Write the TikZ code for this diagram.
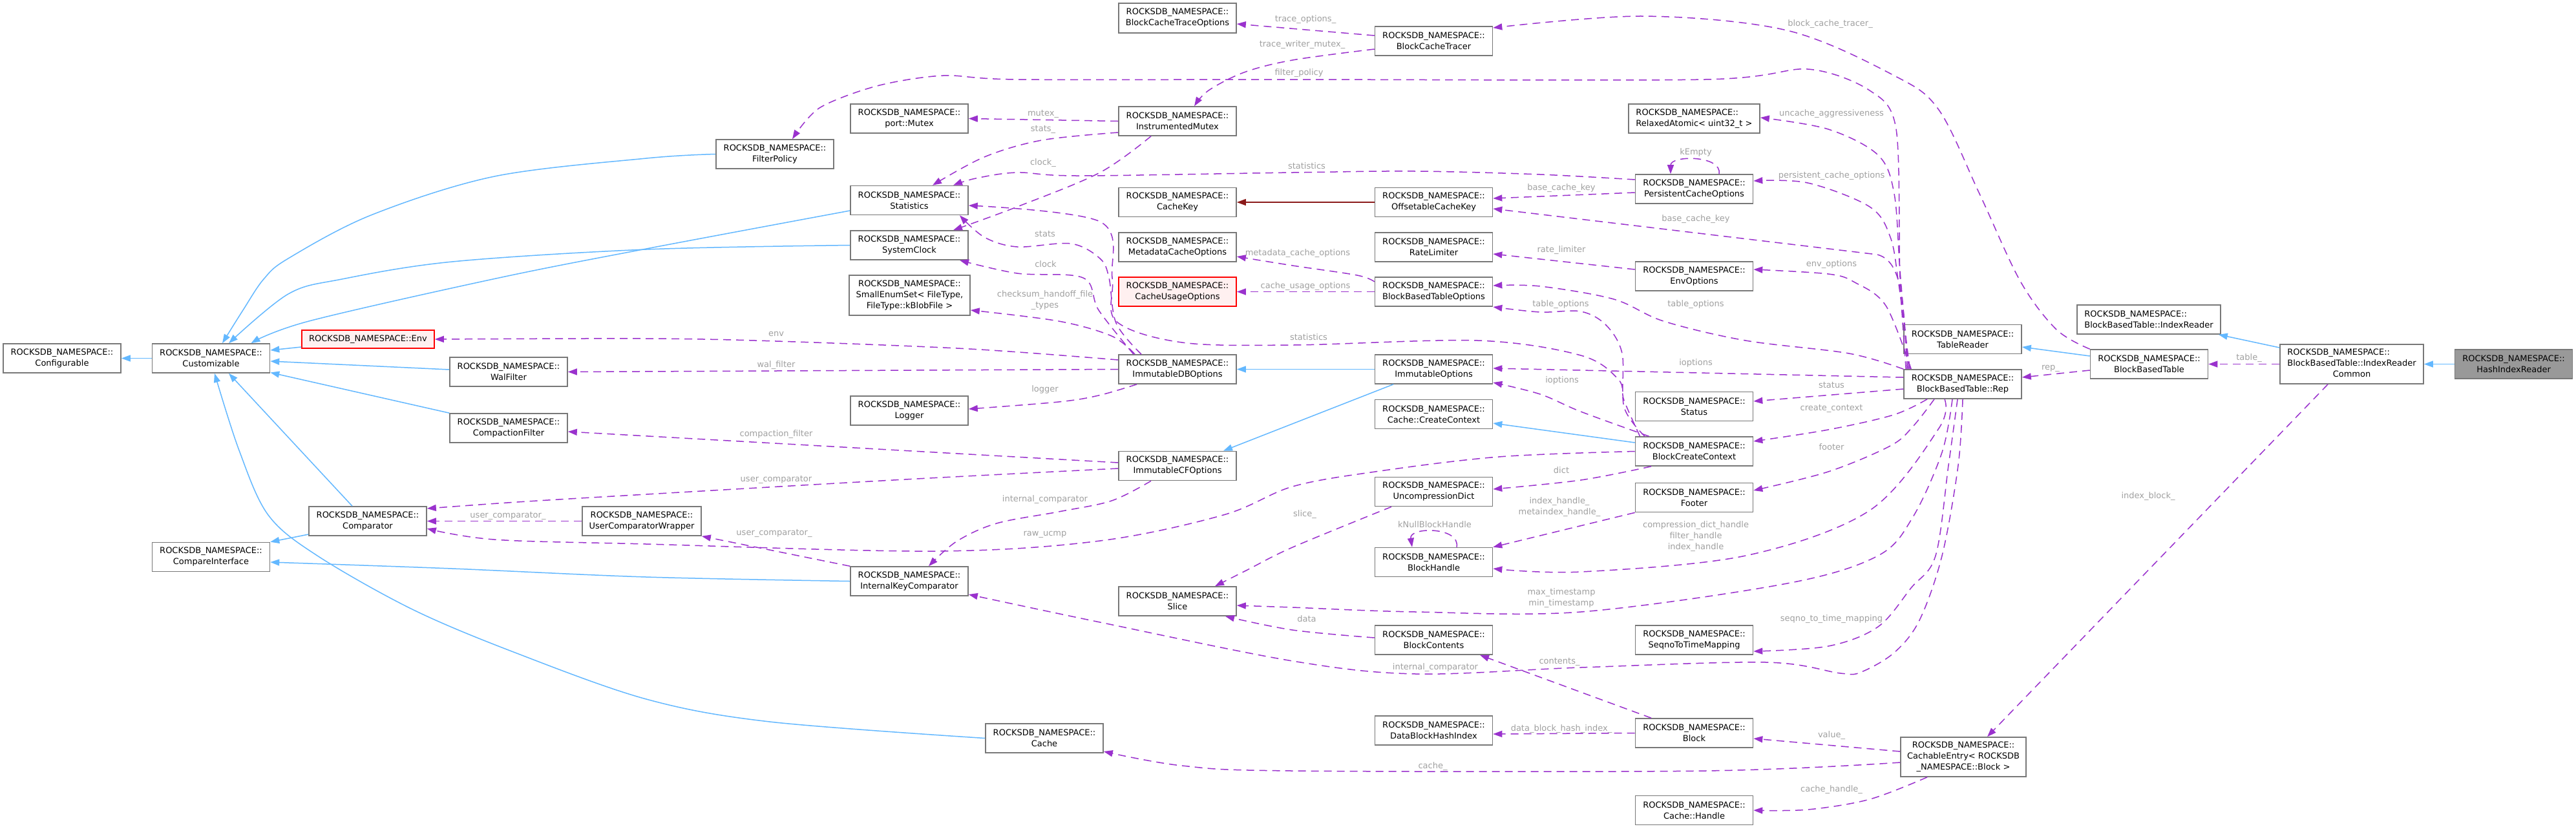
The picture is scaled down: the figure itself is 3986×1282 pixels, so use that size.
\documentclass[tikz,border=0pt]{standalone}
\usepackage{fontspec}
\setmainfont{DejaVu Sans}
\usetikzlibrary{arrows.meta}
\definecolor{bord}{HTML}{787878}
\definecolor{inhc}{HTML}{63B8FF}
\definecolor{usec}{HTML}{9A32CD}
\definecolor{redc}{HTML}{8B1A1A}
\definecolor{lblc}{HTML}{A0A0A0}
\definecolor{redfill}{HTML}{FFF0F0}
\definecolor{hirfill}{HTML}{999999}
\newcommand{\rns}{ROCKSDB\_NAMESPACE::}
\begin{document}
\begin{tikzpicture}[x=0.5pt,y=-0.5pt,
 cls/.style={draw=bord,fill=white,line width=0.8pt,minimum width=91pt,minimum height=22.5pt,inner sep=0pt,align=center,font=\fontsize{6.5}{8.5}\selectfont},
 redbox/.style={cls,draw=red,fill=redfill},
 lbl/.style={text=lblc,inner sep=0pt,align=center,font=\fontsize{6.5}{8.5}\selectfont},
 inh/.style={draw=inhc,line width=0.75pt,-{Triangle[length=7pt,width=5pt]}},
 use/.style={draw=usec,line width=0.75pt,dash pattern=on 6pt off 4pt,-{Triangle[length=7pt,width=5pt]}},
 comp/.style={draw=redc,line width=0.75pt,-{Triangle[length=7pt,width=5pt]}}]
\useasboundingbox (0,0) rectangle (3986,1282);
\fill[white] (0,0) rectangle (3986,1282);

% ---------- nodes ----------
\node[cls] (conf) at (96,554.5) {\rns\\Configurable};
\node[cls] (cust) at (326.5,554.5) {\rns\\Customizable};
\node[cls] (cmpi) at (326.5,862) {\rns\\CompareInterface};
\node[redbox,minimum width=102.5pt,minimum height=14pt] (env) at (569.5,525) {\rns Env};
\node[cls] (cmp) at (569,806.5) {\rns\\Comparator};
\node[cls] (wal) at (787,575.5) {\rns\\WalFilter};
\node[cls] (cf) at (787,662.5) {\rns\\CompactionFilter};
\node[cls,minimum width=92pt] (ucw) at (993,806.5) {\rns\\UserComparatorWrapper};
\node[cls] (fp) at (1199,238.5) {\rns\\FilterPolicy};
\node[cls] (pmx) at (1407,183.5) {\rns\\port::Mutex};
\node[cls] (stat) at (1407,310) {\rns\\Statistics};
\node[cls] (sclk) at (1407,379.5) {\rns\\SystemClock};
\node[cls,minimum width=93.5pt,minimum height=31pt] (ses) at (1407.5,457) {\rns\\SmallEnumSet< FileType,\\FileType::kBlobFile >};
\node[cls] (log) at (1407,635.5) {\rns\\Logger};
\node[cls] (ikc) at (1407,899.5) {\rns\\InternalKeyComparator};
\node[cls] (cache) at (1616,1142.5) {\rns\\Cache};
\node[cls,minimum height=23pt] (bcto) at (1822,28) {\rns\\BlockCacheTraceOptions};
\node[cls] (imx) at (1822,187.5) {\rns\\InstrumentedMutex};
\node[cls] (ckey) at (1822,313) {\rns\\CacheKey};
\node[cls] (mco) at (1822,382.5) {\rns\\MetadataCacheOptions};
\node[redbox] (cuo) at (1822,451.5) {\rns\\CacheUsageOptions};
\node[cls] (idbo) at (1822,571.5) {\rns\\ImmutableDBOptions};
\node[cls] (icfo) at (1822,721) {\rns\\ImmutableCFOptions};
\node[cls] (slice) at (1822,930.5) {\rns\\Slice};
\node[cls] (bct) at (2218.5,63.5) {\rns\\BlockCacheTracer};
\node[cls] (ock) at (2218.5,313) {\rns\\OffsetableCacheKey};
\node[cls] (rl) at (2218.5,382.5) {\rns\\RateLimiter};
\node[cls] (bbto) at (2218.5,451.5) {\rns\\BlockBasedTableOptions};
\node[cls] (iopt) at (2218.5,571.5) {\rns\\ImmutableOptions};
\node[cls] (ccc) at (2218.5,641) {\rns\\Cache::CreateContext};
\node[cls] (ud) at (2218.5,761) {\rns\\UncompressionDict};
\node[cls] (bh) at (2218.5,870) {\rns\\BlockHandle};
\node[cls] (bc) at (2218.5,990.5) {\rns\\BlockContents};
\node[cls] (dbhi) at (2218.5,1130.5) {\rns\\DataBlockHashIndex};
\node[cls,minimum width=101.5pt,align=left] (ra) at (2621.5,183.5) {\rns\\RelaxedAtomic< uint32\_t >};
\node[cls] (pco) at (2621.5,292.5) {\rns\\PersistentCacheOptions};
\node[cls] (envo) at (2621.5,427.5) {\rns\\EnvOptions};
\node[cls] (status) at (2621.5,629) {\rns\\Status};
\node[cls] (bcc) at (2621.5,698.5) {\rns\\BlockCreateContext};
\node[cls] (footer) at (2621.5,770) {\rns\\Footer};
\node[cls] (s2t) at (2621.5,990.5) {\rns\\SeqnoToTimeMapping};
\node[cls] (block) at (2621.5,1134.5) {\rns\\Block};
\node[cls] (chandle) at (2621.5,1254) {\rns\\Cache::Handle};
\node[cls] (tr) at (3037,525) {\rns\\TableReader};
\node[cls] (rep) at (3037,594.5) {\rns\\BlockBasedTable::Rep};
\node[cls,minimum width=97pt,minimum height=30.5pt] (ce) at (3038,1171.5) {\rns\\CachableEntry< ROCKSDB\\\_NAMESPACE::Block >};
\node[cls,minimum width=111pt,align=left] (ir) at (3325,494.5) {\rns\\BlockBasedTable::IndexReader};
\node[cls] (bbt) at (3325.5,563.5) {\rns\\BlockBasedTable};
\node[cls,minimum width=111pt,minimum height=30.5pt] (irc) at (3639,563.5) {\begin{tabular}{@{}l@{}}\rns\\BlockBasedTable::IndexReader\\\multicolumn{1}{@{}c@{}}{Common}\end{tabular}};
\node[cls,fill=hirfill] (hir) at (3889.5,563.5) {\rns\\HashIndexReader};

% ---------- inheritance ----------
\draw[inh] (cust.west) -- (conf.east);
\draw[inh] plot[smooth,tension=0.55] coordinates {(fp.west) (1000,245) (765,273) (574,333) (446,400) (408,432) (376,480) ([xshift=8.75pt]cust.north)};
\draw[inh] plot[smooth,tension=0.55] coordinates {(sclk.west) (1000,386) (700,405) (529,432) (446,455) ([xshift=13.75pt]cust.north)};
\draw[inh] plot[smooth,tension=0.55] coordinates {([yshift=-8pt]stat.west) (1000,385) (772,430) (478,497) ([xshift=31pt]cust.north)};
\draw[inh] ([yshift=-6pt]env.west) -- ([yshift=6.25pt]cust.east);
\draw[inh] ([yshift=1.75pt]wal.west) -- ([yshift=-2.25pt]cust.east);
\draw[inh] (cf.north west) -- ([yshift=-11pt]cust.east);
\draw[inh] ([xshift=-12pt]cmp.north) -- ([xshift=13.75pt]cust.south);
\draw[inh] plot[smooth,tension=0.55] coordinates {(cache.west) (1191,1117) (1000,1082) (797,1010) (638,943) (491,860) (415,797) (370,697) ([xshift=2.75pt]cust.south)};
\draw[inh] ([yshift=-10.25pt]cmp.west) -- (cmpi.north east);
\draw[inh] plot[smooth,tension=0.55] coordinates {(ikc.west) (1000,893) (700,880) ([yshift=-4pt]cmpi.east)};
\draw[inh] (iopt.west) -- (idbo.east);
\draw[inh] ([xshift=-31.25pt]iopt.south) -- ([xshift=35.5pt]icfo.north);
\draw[inh] ([yshift=6.75pt]bcc.west) -- ([yshift=-7pt]ccc.east);
\draw[inh] ([yshift=6.25pt]bbt.west) -- ([yshift=-6pt]tr.east);
\draw[inh] ([yshift=12.75pt]irc.west) -- ([xshift=-2pt]ir.south east);
\draw[inh] (hir.west) -- (irc.east);
\draw[comp] (ock.west) -- (ckey.east);

% ---------- usage ----------
\draw[use] ([yshift=4.25pt]bct.west) -- ([yshift=-4.5pt]bcto.east);
\draw[use] plot[smooth,tension=0.55] coordinates {([yshift=-6.25pt]bct.west) (2000,93) (1925,112) (1870,140) ([xshift=13pt]imx.north)};
\draw[use] plot[smooth,tension=0.5] coordinates {([xshift=2pt]rep.north west) (2940,430) (2934,200) (2893,140) (2797,107) (2638,123) (2000,123) (1574,123) (1459,117) (1357,133) (1268,167) ([xshift=13.5pt]fp.north)};
\draw[use] (imx.west) -- (pmx.east);
\draw[use] plot[smooth,tension=0.55] coordinates {([yshift=-8.75pt]imx.west) (1612,217) (1523,243) ([xshift=18pt]stat.north)};
\draw[use] plot[smooth,tension=0.55] coordinates {([xshift=-20.5pt]imx.south) (1702,267) (1574,320) ([xshift=34pt]sclk.north)};
\draw[use] plot[smooth,tension=0.55] coordinates {([yshift=7.25pt]pco.west) (2383,270) (2191,265) (2000,267) (1670,272) (1574,267) (1510,276) ([xshift=34pt]stat.north)};
\draw[use] ([yshift=-2.75pt]pco.west) -- ([yshift=3pt]ock.east);
\draw[use] ([xshift=19.25pt]pco.north) .. controls (2665,240) and (2585,240) .. ([xshift=-18.25pt]pco.north);
\draw[use] plot[smooth,tension=0.55] coordinates {([yshift=7.75pt]bbto.west) (2100,426) (2000,411) ([yshift=-7.25pt]mco.east)};
\draw[use] (bbto.west) -- (cuo.east);
\draw[use] ([yshift=5.25pt]envo.west) -- ([yshift=-5.25pt]rl.east);
\draw[use] plot[smooth,tension=0.55] coordinates {(bbt.north west) (3182,510) (3126,435) (3063,300) (3000,170) (2931,117) (2765,47) (2542,25) ([yshift=10.25pt]bct.east)};
\draw[use] plot[smooth,tension=0.55] coordinates {([xshift=4pt]rep.north west) (2940,420) (2931,300) (2906,240) (2829,200) ([yshift=0.75pt]ra.east)};
\draw[use] plot[smooth,tension=0.55] coordinates {([xshift=5pt]rep.north west) (2938,440) (2925,367) (2893,320) (2797,283) ([yshift=6.25pt]pco.east)};
\draw[use] ([xshift=3pt]rep.north west) .. controls (2945,470) and (2945,405) .. (2905,394) -- ([yshift=-5pt]ock.east);
\draw[use] plot[smooth,tension=0.55] coordinates {([xshift=6pt]rep.north west) (2918,473) (2870,437) (2829,424) ([yshift=5.25pt]envo.east)};
\draw[use] plot[smooth,tension=0.55] coordinates {(rep.north west) (2861,547) (2701,527) (2574,497) (2497,463) (2383,443) ([yshift=4.75pt]bbto.east)};
\draw[use] plot[smooth,tension=0.55] coordinates {([xshift=-38.25pt]bcc.north) (2513,630) (2510,547) (2485,503) (2446,482) (2383,483) ([yshift=-11.75pt]bbto.east)};
\draw[use] plot[smooth,tension=0.55] coordinates {([xshift=-42pt]bcc.north) (2513,620) (2504,587) (2446,550) (2287,527) (2000,534) (1829,530) (1727,497) (1721,430) (1702,343) ([yshift=-4pt]stat.east)};
\draw[use] ([yshift=5.25pt]rep.west) -- ([yshift=0.75pt]iopt.east);
\draw[use] plot[smooth,tension=0.55] coordinates {([xshift=-35pt]bcc.north) (2446,637) (2383,610) ([yshift=-10.25pt]iopt.east)};
\draw[use] ([yshift=-3.75pt]rep.west) -- ([yshift=4pt]status.east);
\draw[use] plot[smooth,tension=0.55] coordinates {([xshift=-27.5pt]rep.south) (2930,642) (2829,665) ([yshift=7.75pt]bcc.east)};
\draw[use] plot[smooth,tension=0.55] coordinates {([xshift=-22pt]rep.south) (2960,660) (2925,690) (2829,730) ([yshift=5.5pt]footer.east)};
\draw[use] plot[smooth,tension=0.55] coordinates {([xshift=-33.25pt]bcc.south) (2446,743) ([yshift=2pt]ud.east)};
\draw[use] (footer.south west) -- (bh.north east);
\draw[use] plot[smooth,tension=0.55] coordinates {([xshift=-14pt]rep.south) (3000,663) (2893,790) (2701,860) (2446,885) ([yshift=-5pt]bh.east)};
\draw[use] ([xshift=17.75pt]bh.north) .. controls (2260,815) and (2180,815) .. ([xshift=-16.75pt]bh.north);
\draw[use] plot[smooth,tension=0.55] coordinates {([xshift=-32.75pt]ud.south) (2000,847) (1930,882) ([xshift=29pt]slice.north)};
\draw[use] plot[smooth,tension=0.55] coordinates {([xshift=-8pt]rep.south) (3005,700) (2960,800) (2906,860) (2765,903) (2446,947) (2191,947) (2000,940) ([yshift=-3.25pt]slice.east)};
\draw[use] plot[smooth,tension=0.55] coordinates {([yshift=1.75pt]bc.west) (2000,975) ([xshift=37pt]slice.south)};
\draw[use] plot[smooth,tension=0.55] coordinates {([xshift=-4pt]rep.south) (3015,720) (2995,860) (2957,910) (2906,970) (2829,1000) ([yshift=-8.75pt]s2t.east)};
\draw[use] plot[smooth,tension=0.55] coordinates {(rep.south) (3030,720) (3005,860) (2970,960) (2931,1010) (2880,1040) (2848,1042) (2733,1025) (2446,1033) (2191,1043) (2000,1023) (1702,963) ([yshift=-10.25pt]ikc.east)};
\draw[use] ([xshift=-33.25pt]block.north) -- ([xshift=35.75pt]bc.south);
\draw[use] (block.west) -- ([yshift=-2.75pt]dbhi.east);
\draw[use] ([yshift=4.25pt]ce.west) -- ([yshift=-4.25pt]block.east);
\draw[use] plot[smooth,tension=0.55] coordinates {([yshift=-4.25pt]ce.west) (2638,1193) (2000,1193) (1829,1185) ([yshift=-10.25pt]cache.east)};
\draw[use] plot[smooth,tension=0.55] coordinates {([xshift=-28pt]ce.south) (2893,1237) (2797,1253) (chandle.east)};
\draw[use] ([xshift=-18.5pt]irc.south) -- ([xshift=18.5pt]ce.north);
\draw[use] (irc.west) -- (bbt.east);
\draw[use] ([yshift=-4.75pt]bbt.west) -- ([yshift=5.25pt]rep.east);
\draw[use] plot[smooth,tension=0.55] coordinates {([yshift=7.25pt]idbo.west) (1500,540) (1201,528) (1000,524) (env.east)};
\draw[use] (idbo.west) -- (wal.east);
\draw[use] plot[smooth,tension=0.55] coordinates {([xshift=-31.5pt]idbo.south) (1700,612) (1638,622) ([yshift=1.25pt]log.east)};
\draw[use] plot[smooth,tension=0.55] coordinates {([xshift=-33pt]idbo.north) (1720,520) (1638,497) ([yshift=-11.5pt]ses.east)};
\draw[use] plot[smooth,tension=0.55] coordinates {([xshift=-28pt]idbo.north) (1727,500) (1716,430) (1702,400) (1657,377) (1574,382) (1523,367) ([xshift=39pt]stat.south)};
\draw[use] plot[smooth,tension=0.55] coordinates {([xshift=-34pt]idbo.north) (1700,480) (1676,430) (1574,423) ([xshift=39pt]sclk.south)};
\draw[use] ([yshift=2.5pt]icfo.west) -- ([yshift=-2.75pt]cf.east);
\draw[use] plot[smooth,tension=0.55] coordinates {([yshift=-2pt]icfo.west) (1400,742) (1000,765) (800,777) ([yshift=9.75pt]cmp.east)};
\draw[use] plot[smooth,tension=0.55] coordinates {([xshift=-20.5pt]icfo.south) (1720,775) (1638,792) (1542,810) (1480,838) ([xshift=15pt]ikc.north)};
\draw[use] (ucw.west) -- (cmp.east);
\draw[use] (ikc.north west) -- (ucw.south east);
\draw[use] plot[smooth,tension=0.55] coordinates {(bcc.west) (2319,707) (2128,730) (2000,753) (1893,797) (1702,837) (1446,853) (1000,842) (765,835) ([yshift=-5.75pt]cmp.east)};

% ---------- labels ----------
\node[lbl] (l01) at (2020,30) {trace\_options\_};
\node[lbl] (l02) at (2015,69) {trace\_writer\_mutex\_};
\node[lbl] (l03) at (2010,113) {filter\_policy};
\node[lbl] (l04) at (1614,176) {mutex\_};
\node[lbl] (l05) at (1614,200) {stats\_};
\node[lbl] (l06) at (1614,252) {clock\_};
\node[lbl] (l07) at (2022,257) {statistics};
\node[lbl] (l08) at (2416,291) {base\_cache\_key};
\node[lbl] (l09) at (2624,236) {kEmpty};
\node[lbl] (l10) at (2008,392) {metadata\_cache\_options};
\node[lbl] (l11) at (2020,443) {cache\_usage\_options};
\node[lbl] (l12) at (2416,387) {rate\_limiter};
\node[lbl] (l13) at (2832,37) {block\_cache\_tracer\_};
\node[lbl] (l14) at (2834,176) {uncache\_aggressiveness};
\node[lbl] (l15) at (2834,272) {persistent\_cache\_options};
\node[lbl] (l16) at (2624,339) {base\_cache\_key};
\node[lbl] (l17) at (2834,409) {env\_options};
\node[lbl] (l18) at (2624,471) {table\_options};
\node[lbl] (l19) at (2415,471) {table\_options};
\node[lbl] (l20) at (2025,522) {statistics};
\node[lbl] (l21) at (2624,562) {ioptions};
\node[lbl] (l22) at (2417,589) {ioptions};
\node[lbl] (l23) at (2834,596) {status};
\node[lbl] (l24) at (2834,632) {create\_context};
\node[lbl] (l25) at (2834,692) {footer};
\node[lbl] (l26) at (2416,728) {dict};
\node[lbl] (l27) at (2413,785) {index\_handle\_\\metaindex\_handle\_};
\node[lbl] (l28) at (2624,830) {compression\_dict\_handle\\filter\_handle\\index\_handle};
\node[lbl] (l29) at (2220,812) {kNullBlockHandle};
\node[lbl] (l30) at (2019,796) {slice\_};
\node[lbl] (l31) at (2416,926) {max\_timestamp\\min\_timestamp};
\node[lbl] (l32) at (2022,958) {data};
\node[lbl] (l33) at (2834,958) {seqno\_to\_time\_mapping};
\node[lbl] (l34) at (2221,1033) {internal\_comparator};
\node[lbl] (l35) at (2413,1024) {contents\_};
\node[lbl] (l36) at (2416,1128) {data\_block\_hash\_index\_};
\node[lbl] (l37) at (2834,1138) {value\_};
\node[lbl] (l38) at (2217,1186) {cache\_};
\node[lbl] (l39) at (2834,1222) {cache\_handle\_};
\node[lbl] (l40) at (3324,768) {index\_block\_};
\node[lbl] (l41) at (3480,554) {table\_};
\node[lbl] (l42) at (3173,570) {rep\_};
\node[lbl] (l43) at (1201,517) {env};
\node[lbl] (l44) at (1201,565) {wal\_filter};
\node[lbl] (l45) at (1617,603) {logger};
\node[lbl] (l46) at (1617,465) {checksum\_handoff\_file\\\_types};
\node[lbl] (l47) at (1617,362) {stats};
\node[lbl] (l48) at (1618,409) {clock};
\node[lbl] (l49) at (1201,672) {compaction\_filter};
\node[lbl] (l50) at (1201,742) {user\_comparator};
\node[lbl] (l51) at (1617,773) {internal\_comparator};
\node[lbl] (l52) at (786,798) {user\_comparator\_};
\node[lbl] (l53) at (1198,825) {user\_comparator\_};
\node[lbl] (l54) at (1617,827) {raw\_ucmp};
\end{tikzpicture}
\end{document}
